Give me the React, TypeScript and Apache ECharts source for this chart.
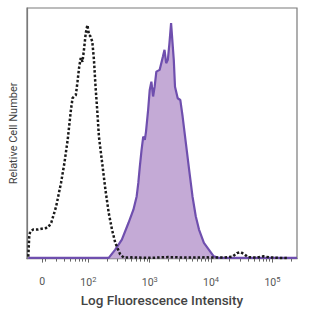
import React, { useEffect, useRef } from "react";
import * as echarts from "echarts";

// x in display units: 10^2 -> 2, 10^3 -> 3 ... ; "0" sits at ~1.246 (biexponential scale)
const controlX = [1.021, 1.037, 1.053, 1.101, 1.181, 1.262, 1.342, 1.395, 1.475, 1.555, 1.61, 1.663, 1.716, 1.743, 1.796, 1.823, 1.851, 1.876, 1.904, 1.928, 1.957, 1.984, 2.011, 2.032, 2.064, 2.091, 2.117, 2.144, 2.172, 2.225, 2.278, 2.332, 2.385, 2.439, 2.519, 2.578, 2.7, 3.0, 3.3, 3.6, 3.9, 4.2, 4.35, 4.42, 4.48, 4.54, 4.6, 4.75, 4.85, 4.95, 5.1, 5.25];
const controlY = [0.8, 9.2, 10.8, 11.6, 11.6, 12.0, 12.4, 14.3, 20.8, 30.3, 38.2, 47.4, 59.4, 64.1, 65.3, 70.6, 76.6, 80.1, 78.5, 83.3, 89.9, 93.2, 89.2, 88.8, 86.6, 79.3, 68.6, 59.4, 48.7, 38.1, 27.5, 18.2, 11.6, 6.3, 1.6, 0.4, 0.5, 0.3, 0.6, 0.4, 0.5, 0.4, 0.8, 2.2, 2.6, 1.8, 0.6, 0.4, 0.9, 0.5, 0.3, 0.2];

const stainedX = [1.02, 1.5, 2.0, 2.225, 2.332, 2.438, 2.546, 2.653, 2.734, 2.787, 2.814, 2.839, 2.867, 2.894, 2.92, 2.939, 2.974, 3.0, 3.027, 3.055, 3.08, 3.108, 3.161, 3.215, 3.241, 3.268, 3.295, 3.321, 3.348, 3.364, 3.392, 3.412, 3.456, 3.498, 3.536, 3.589, 3.642, 3.697, 3.75, 3.803, 3.883, 3.963, 4.043, 4.124, 4.4, 4.7, 5.0, 5.4];
const stainedY = [0.3, 0.3, 0.3, 0.3, 0.3, 3.6, 7.6, 14.2, 19.5, 24.8, 30.2, 36.8, 43.4, 48.7, 47.4, 50.6, 59.4, 67.3, 70.6, 64.7, 68.6, 74.6, 75.3, 80.6, 83.3, 78.0, 79.3, 85.9, 94.0, 88.6, 79.3, 68.6, 64.0, 63.3, 56.7, 46.1, 35.5, 24.8, 16.9, 11.6, 6.3, 3.6, 0.9, 0.3, 0.3, 0.3, 0.3, 0.3];

const majorTicks = [1.246, 2, 3, 4, 5];
const majorLabels = ["0", "10{s|2}", "10{s|3}", "10{s|4}", "10{s|5}"];

const minorTicks: number[] = [];
for (let d = 1; d <= 5; d++) {
  for (let k = 2; k <= 9; k++) {
    const v = d + Math.log10(k);
    if (v > 1.3 && v < 5.4) minorTicks.push(v);
  }
}

export default function App() {
  const ref = useRef<HTMLDivElement>(null);
  useEffect(() => {
    if (!ref.current) return;
    const chart = echarts.init(ref.current, undefined, { renderer: "svg" });
    const font = "Roboto";
    chart.setOption({
      animation: false,
      textStyle: { fontFamily: font },
      grid: { left: 25, right: 15, top: 8, bottom: 53, show: true, borderColor: "#7a7a7a", borderWidth: 1.2, backgroundColor: "transparent" },
      xAxis: [
        {
          type: "value",
          min: 1.0,
          max: 5.4,
          name: "Log Fluorescence Intensity",
          nameLocation: "middle",
          nameGap: 33,
          nameTextStyle: { fontSize: 13.5, color: "#444", fontWeight: 500, fontFamily: font },
          axisLine: { show: true, lineStyle: { color: "#7a7a7a", width: 1.2 } },
          axisTick: { show: true, length: 4, customValues: majorTicks, lineStyle: { color: "#666" } },
          splitLine: { show: false },
          axisLabel: {
            customValues: majorTicks,
            margin: 17,
            fontSize: 10.5,
            color: "#555",
            fontFamily: font,
            formatter: (v: number) => {
              const i = majorTicks.findIndex((t) => Math.abs(t - v) < 1e-6);
              return i >= 0 ? majorLabels[i] : "";
            },
            rich: { s: { fontSize: 7.5, color: "#555", padding: [0, 0, 6, 0], fontFamily: font } },
          },
        },
        {
          type: "value",
          min: 1.0,
          max: 5.4,
          position: "bottom",
          axisLine: { show: false },
          axisTick: { show: true, length: 3, customValues: minorTicks, lineStyle: { color: "#666" } },
          axisLabel: { show: false },
          splitLine: { show: false },
        },
      ],
      yAxis: {
        type: "value",
        min: 0,
        max: 100,
        name: "Relative Cell Number",
        nameLocation: "middle",
        nameGap: 8,
        nameTextStyle: { fontSize: 11, color: "#444", fontFamily: font },
        axisLine: { show: true, lineStyle: { color: "#7a7a7a", width: 1.2 } },
        axisTick: { show: false },
        axisLabel: { show: false },
        splitLine: { show: false },
      },
      series: [
        {
          type: "line",
          name: "stained",
          data: stainedX.map((x, i) => [x, stainedY[i]]),
          showSymbol: false,
          lineStyle: { color: "#6f4fae", width: 2.2 },
          areaStyle: { color: "#c4aad6", opacity: 1 },
          z: 2,
        },
        {
          type: "line",
          name: "control",
          data: controlX.map((x, i) => [x, controlY[i]]),
          showSymbol: false,
          lineStyle: { color: "#1a1a1a", width: 2.5, type: [2.5, 2] },
          z: 3,
        },
      ],
    });
    return () => chart.dispose();
  }, []);
  return <div ref={ref} style={{ position: "absolute", left: 0, top: 0, width: 312, height: 312 }} />;
}
